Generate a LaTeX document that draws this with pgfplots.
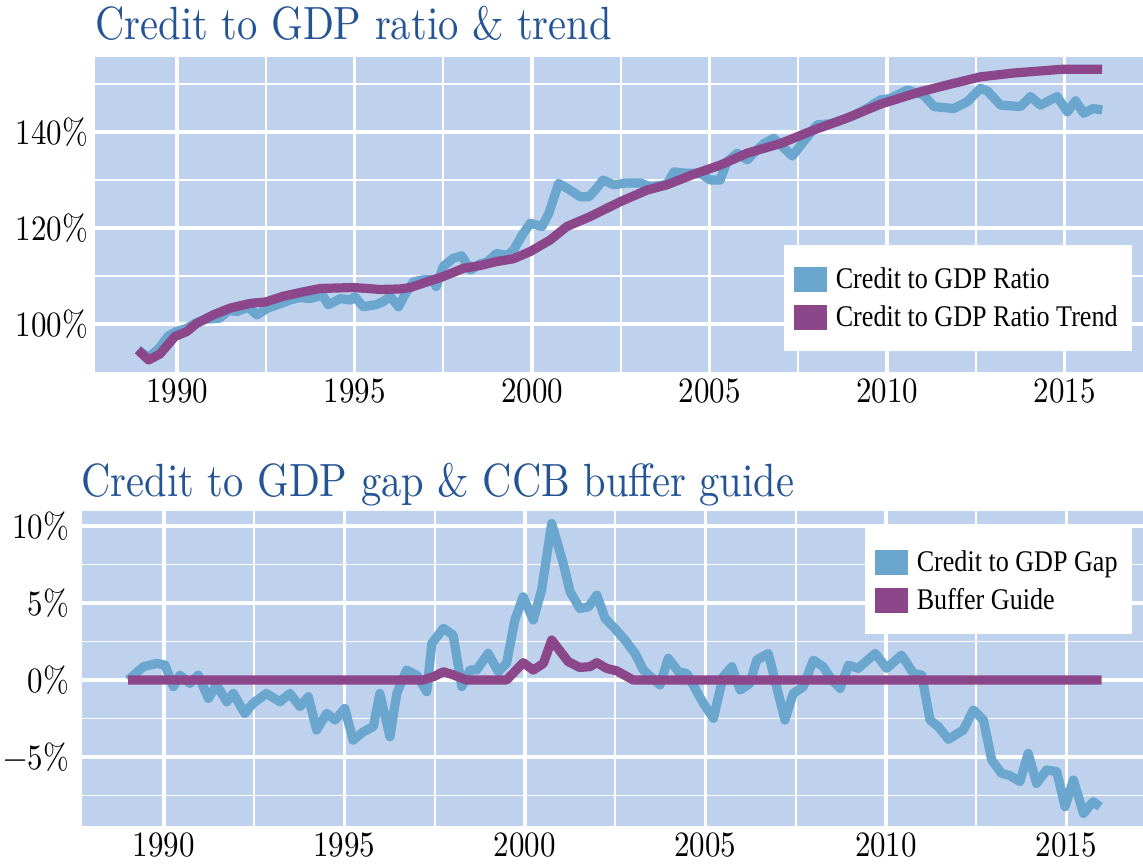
\documentclass[border=0pt]{standalone}
\usepackage{fontspec}
\setmainfont{lmroman10-regular}[Extension=.otf, FakeStretch=0.87]
\newfontfamily\legfont{Liberation Serif}[FakeStretch=0.87]
\usepackage{pgfplots}
\pgfplotsset{compat=1.18}
\definecolor{bgblue}{RGB}{190,210,238}
\definecolor{lineblue}{RGB}{106,166,206}
\definecolor{linepurple}{RGB}{140,70,138}
\definecolor{titleblue}{RGB}{36,84,150}

\pgfplotstableread{
x y
1988.9 94.6
1989.2 93.0
1989.5 95.0
1989.75 97.5
1990.0 98.5
1990.25 99.0
1990.55 100.3
1990.8 101.0
1991.2 101.2
1991.45 102.8
1991.7 102.6
1992.0 103.5
1992.25 101.9
1992.55 103.3
1992.9 104.2
1993.18 105.0
1993.45 105.5
1993.75 105.3
1994.1 106.0
1994.26 104.0
1994.6 105.3
1994.9 105.0
1995.0 105.7
1995.25 103.6
1995.6 104.0
1995.82 104.7
1996.0 105.8
1996.24 103.6
1996.45 106.5
1996.66 108.8
1996.94 109.2
1997.22 109.2
1997.3 107.8
1997.5 112.0
1997.78 113.7
1998.02 114.2
1998.26 111.25
1998.54 112.5
1998.75 113.0
1999.0 114.7
1999.3 114.3
1999.48 115.4
1999.72 118.5
1999.95 121.0
2000.28 120.3
2000.47 123.0
2000.75 129.3
2001.05 128.0
2001.36 126.5
2001.6 126.5
2001.78 127.9
2002.0 130.0
2002.3 129.0
2002.67 129.4
2003.05 129.4
2003.33 128.6
2003.8 129.1
2004.0 131.7
2004.35 131.4
2004.74 131.4
2005.02 130.0
2005.3 130.0
2005.49 133.8
2005.78 135.6
2006.06 134.2
2006.3 136.0
2006.53 137.6
2006.81 138.7
2007.05 137.0
2007.33 135.0
2007.65 138.0
2008.03 141.5
2008.4 141.7
2008.79 142.7
2009.06 143.5
2009.34 144.5
2009.81 146.7
2010.1 147.0
2010.57 148.75
2011.03 147.7
2011.32 145.3
2011.88 144.9
2012.26 146.3
2012.63 149.1
2012.82 148.6
2013.2 145.6
2013.76 145.3
2014.04 147.4
2014.32 145.6
2014.79 147.4
2015.08 144.2
2015.31 146.5
2015.54 143.9
2015.8 144.9
2016.06 144.6
}\ratiotable

\pgfplotstableread{
x y
1988.9 94.6
1989.2 92.5
1989.52 93.75
1989.94 97.4
1990.27 98.4
1990.55 100.1
1991.02 101.9
1991.49 103.3
1992.06 104.3
1992.5 104.6
1993.0 105.8
1993.56 106.7
1994.03 107.4
1994.97 107.6
1995.72 107.2
1996.28 107.3
1996.57 107.6
1997.22 109.2
1997.5 109.9
1998.07 111.6
1998.54 112.2
1999.0 113.0
1999.48 113.6
1999.95 115.1
2000.51 117.5
2000.98 120.3
2001.64 122.4
2002.49 125.5
2003.24 127.9
2003.8 129.0
2004.55 131.2
2005.3 133.1
2006.06 135.6
2007.0 137.6
2007.93 140.4
2008.87 142.9
2009.81 145.8
2010.94 148.4
2011.8 150.0
2012.63 151.5
2013.57 152.3
2014.97 153.1
2016.06 153.1
}\trendtable

\pgfplotstableread{
x y
1989.01 0
1989.43 0.87
1989.8 1.08
1990.03 0.97
1990.26 -0.43
1990.44 0.32
1990.72 -0.22
1990.95 0.32
1991.23 -1.19
1991.46 -0.32
1991.74 -1.41
1991.92 -0.87
1992.24 -2.16
1992.47 -1.51
1992.84 -0.87
1993.21 -1.41
1993.49 -0.87
1993.77 -1.73
1994.0 -1.08
1994.23 -3.25
1994.51 -2.16
1994.74 -2.6
1995.01 -1.84
1995.24 -3.9
1995.52 -3.36
1995.8 -3.03
1995.98 -0.87
1996.26 -3.68
1996.45 -0.87
1996.72 0.65
1997.0 0.32
1997.28 -0.76
1997.42 2.38
1997.74 3.36
1998.01 2.92
1998.25 -0.43
1998.48 0.65
1998.66 0.65
1998.98 1.73
1999.26 0.54
1999.49 1.08
1999.72 3.9
1999.95 5.41
2000.23 3.9
2000.46 5.84
2000.74 10.17
2001.06 7.58
2001.25 5.73
2001.52 4.65
2001.76 4.76
2001.99 5.52
2002.22 4.0
2002.49 3.35
2002.77 2.6
2003.05 1.73
2003.28 0.65
2003.74 -0.32
2003.97 1.41
2004.25 0.54
2004.48 0.43
2004.94 -1.51
2005.22 -2.49
2005.49 0.22
2005.73 0.87
2005.96 -0.65
2006.23 -0.22
2006.42 1.3
2006.74 1.73
2006.97 -0.43
2007.2 -2.6
2007.43 -0.87
2007.71 -0.43
2007.99 1.3
2008.26 0.87
2008.5 0.0
2008.73 -0.54
2008.96 0.97
2009.23 0.76
2009.7 1.73
2010.02 0.76
2010.43 1.62
2010.76 0.43
2010.99 0.32
2011.22 -2.6
2011.45 -3.03
2011.73 -3.85
2012.14 -3.25
2012.42 -1.95
2012.7 -2.6
2012.93 -5.2
2013.2 -6.06
2013.43 -6.2
2013.71 -6.6
2013.94 -4.76
2014.17 -6.71
2014.45 -5.84
2014.73 -5.95
2014.96 -8.23
2015.19 -6.49
2015.47 -8.66
2015.74 -7.9
2015.93 -8.23
}\gaptable

\pgfplotstableread{
x y
1989.01 0
1997.18 0
1997.5 0.25
1997.74 0.54
1998.0 0.35
1998.38 0
1999.49 0
1999.95 1.13
2000.23 0.65
2000.51 1.08
2000.74 2.6
2001.2 1.19
2001.52 0.82
2001.8 0.87
2001.99 1.13
2002.26 0.76
2002.54 0.6
2003.0 0
2015.97 0
}\buffertable

\pgfplotsset{
  mystyle/.style={
    scale only axis,
    axis background/.style={fill=bgblue},
    axis line style={draw=none},
    tick style={draw=none},
    major tick length=0pt,
    minor tick length=0pt,
    grid=both,
    major grid style={white, line width=1.6pt},
    minor grid style={white, line width=0.8pt},
    xtick={1990,1995,...,2015},
    minor xtick={1992.5,1997.5,...,2012.5},
    /pgf/number format/assume math mode=true,
    /pgf/number format/1000 sep={},
    tick label style={font=\fontsize{17.8}{20}\selectfont, black},
    legend cell align=left,
    legend image code/.code={%
      \fill[##1, draw=none] (0pt,-6.25pt) rectangle (16.5pt,6.25pt);
      \fill[white, opacity=0, draw=none] (16.5pt,-1pt) rectangle (19pt,1pt);},
    every axis plot/.append style={line width=4.6pt, line join=round},
  }
}

\begin{document}
\begin{tikzpicture}
\useasboundingbox (0,0) rectangle (571.5pt,433.5pt);
\node[anchor=base west, inner sep=0pt, text=titleblue, font=\fontsize{23.3}{28}\selectfont] at (47.5pt,413.5pt) {Credit to GDP ratio \& trend};
\node[anchor=base west, inner sep=0pt, text=titleblue, font=\fontsize{23.3}{28}\selectfont] at (40.5pt,185.15pt) {Credit to GDP gap \& CCB buffer guide};

\begin{axis}[mystyle,
  at={(47.5pt,247.65pt)}, anchor=south west,
  width=524pt, height=157.5pt,
  xmin=1987.69, xmax=2017.21,
  ymin=90.06, ymax=155.7,
  ytick={100,120,140},
  minor ytick={110,130,150},
  yticklabel={\pgfmathprintnumber{\tick}\%},
  legend style={at={(0.9895,0.402)}, anchor=north east, draw=none, fill=white,
    font=\legfont\fontsize{15}{18}\selectfont, inner xsep=5pt, inner ysep=9pt,
    nodes={inner sep=2pt}, row sep=3pt},
]
\addplot[color=lineblue] table {\ratiotable};
\addlegendentry{Credit to GDP Ratio}
\addplot[color=linepurple] table {\trendtable};
\addlegendentry{Credit to GDP Ratio Trend}
\end{axis}

\begin{axis}[mystyle,
  at={(41pt,20.5pt)}, anchor=south west,
  width=530.5pt, height=157.65pt,
  xmin=1987.73, xmax=2017.12,
  ymin=-9.48, ymax=11.0,
  ytick={-5,0,5,10},
  yticklabels={−5\%,0\%,5\%,10\%},
  minor ytick={-7.5,-2.5,2.5,7.5},
  yticklabel style={xshift=-3pt},
  legend style={at={(0.9896,0.945)}, anchor=north east, draw=none, fill=white,
    font=\legfont\fontsize{15}{18}\selectfont, inner xsep=5pt, inner ysep=9pt,
    nodes={inner sep=2pt}, row sep=3pt},
]
\addplot[color=lineblue] table {\gaptable};
\addlegendentry{Credit to GDP Gap}
\addplot[color=linepurple] table {\buffertable};
\addlegendentry{Buffer Guide}
\end{axis}
\end{tikzpicture}
\end{document}
